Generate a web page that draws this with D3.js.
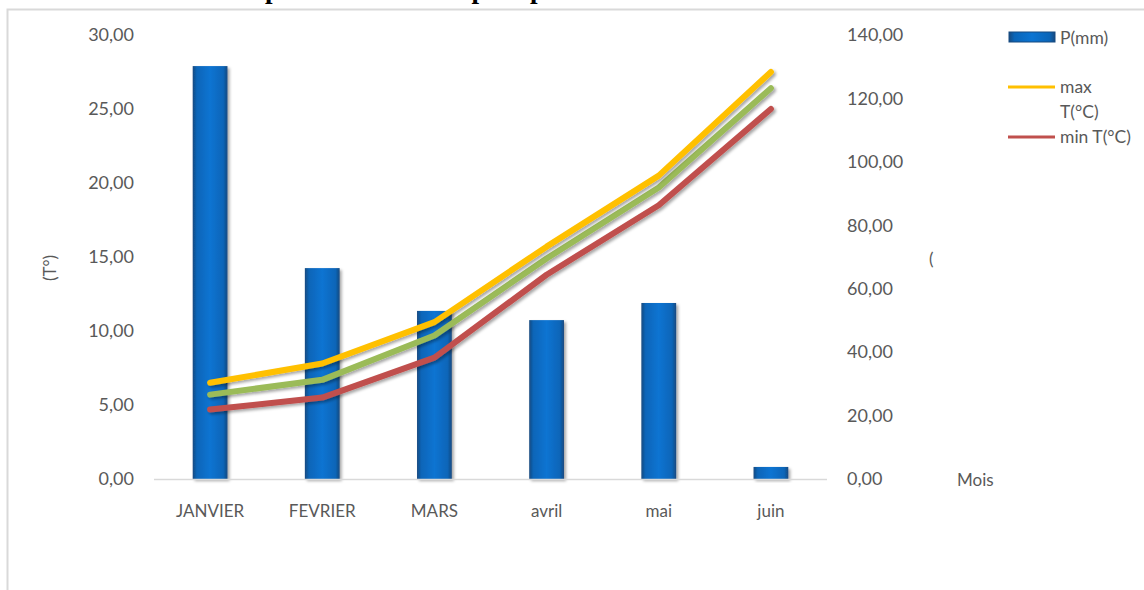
<!DOCTYPE html>
<html>
<head>
<meta charset="utf-8">
<script src="https://cdn.jsdelivr.net/npm/d3@7"></script>
<style>
  html, body { margin: 0; padding: 0; background: #fff; }
  svg { display: block; }
  text { font-family: Lato, "Open Sans", sans-serif; fill: #595959; }
</style>
</head>
<body>
<svg id="chart" width="1144" height="590"></svg>
<script>
// Months on the x axis
const months = ["JANVIER", "FEVRIER", "MARS", "avril", "mai", "juin"];
// Precipitation (mm), right axis
const precip = [130.2, 66.5, 53.0, 50.1, 55.5, 3.8];
// Temperatures (°C), left axis
const tMax = [6.5, 7.8, 10.6, 15.7, 20.5, 27.5];
const tMoy = [5.7, 6.7, 9.7, 14.9, 19.7, 26.4];
const tMin = [4.7, 5.5, 8.2, 13.8, 18.5, 25.0];
// Axis ticks
const leftTicks = [0, 5, 10, 15, 20, 25, 30];
const rightTicks = [0, 20, 40, 60, 80, 100, 120, 140];

const fmt = v => d3.format(".2f")(v).replace(".", ",");

const svg = d3.select("#chart");
const defs = svg.append("defs");

// Bar fill: dark edges, bright body
const grad = defs.append("linearGradient").attr("id", "barGrad")
  .attr("x1", "0").attr("x2", "1").attr("y1", "0").attr("y2", "0");
[[0, "#174a80"], [0.12, "#0a65b8"], [0.5, "#0b74d2"], [0.88, "#0a65b8"], [1, "#174a80"]]
  .forEach(([o, c]) => grad.append("stop").attr("offset", o).attr("stop-color", c));

const shadow = defs.append("filter").attr("id", "shadow")
  .attr("x", "-20%").attr("y", "-20%").attr("width", "150%").attr("height", "150%");
shadow.append("feDropShadow").attr("dx", 2).attr("dy", 2).attr("stdDeviation", 1.6)
  .attr("flood-color", "#000").attr("flood-opacity", 0.35);

// Outer frame
svg.append("rect").attr("x", 7.5).attr("y", 9.5).attr("width", 1160).attr("height", 600)
  .attr("fill", "none").attr("stroke", "#d9d9d9").attr("stroke-width", 2);

// Title (sits at the top edge)
const title = svg.append("text")
  .attr("y", -2)
  .style("font-family", "'Liberation Serif', 'DejaVu Serif', serif")
  .style("font-weight", "bold").style("font-size", "27px").style("fill", "#000")
  .text("Variation des températures et de la précipitation");
{
  const node = title.node();
  const s = title.text();
  const i = s.indexOf("p");
  const off = node.getSubStringLength(0, i);
  title.attr("x", 265 - off);
}

const plot = { left: 154, right: 827, top: 35, bottom: 479 };

const x = d3.scaleBand().domain(months).range([plot.left, plot.right]).paddingInner(0.69).paddingOuter(0.345);
const yL = d3.scaleLinear().domain([0, 30]).range([plot.bottom, plot.top]);
const yR = d3.scaleLinear().domain([0, 140]).range([plot.bottom, plot.top]);

// Left axis labels
const axL = svg.append("g").attr("transform", `translate(${plot.left - 20},0)`)
  .call(d3.axisLeft(yL).tickValues(leftTicks).tickFormat(fmt).tickSize(0).tickPadding(0));
axL.select(".domain").remove();
axL.selectAll("text").style("font-size", "18px").style("fill", "#595959")
  .style("font-family", "Lato, sans-serif");

// Right axis labels
const axR = svg.append("g").attr("transform", `translate(${plot.right + 20},0)`)
  .call(d3.axisRight(yR).tickValues(rightTicks).tickFormat(fmt).tickSize(0).tickPadding(0));
axR.select(".domain").remove();
axR.selectAll("text").style("font-size", "18px").style("fill", "#595959")
  .style("font-family", "Lato, sans-serif");

// Bars
svg.append("g").selectAll("rect").data(precip).join("rect")
  .attr("x", (d, i) => x(months[i]))
  .attr("y", d => yR(d))
  .attr("width", x.bandwidth())
  .attr("height", d => yR(0) - yR(d))
  .attr("fill", "url(#barGrad)")
  .attr("filter", "url(#shadow)");

// Baseline
svg.append("line").attr("x1", plot.left).attr("x2", plot.right)
  .attr("y1", plot.bottom + 0.5).attr("y2", plot.bottom + 0.5)
  .attr("stroke", "#d9d9d9").attr("stroke-width", 1.5);

// Month labels
const axX = svg.append("g").attr("transform", `translate(0,${plot.bottom})`)
  .call(d3.axisBottom(x).tickSize(0).tickPadding(26));
axX.select(".domain").remove();
axX.selectAll("text").style("font-size", "17px").style("fill", "#595959")
  .style("font-family", "Lato, sans-serif");

// Temperature lines
const line = d3.line().x((d, i) => x(months[i]) + x.bandwidth() / 2).y(d => yL(d));
[[tMoy, "#9bbb59"], [tMin, "#c0504d"], [tMax, "#ffc000"]].forEach(([data, color]) => {
  svg.append("path").datum(data).attr("d", line)
    .attr("fill", "none").attr("stroke", color).attr("stroke-width", 6)
    .attr("stroke-linecap", "round").attr("stroke-linejoin", "round")
    .attr("filter", "url(#shadow)");
});

// Axis titles
svg.append("text").attr("transform", "translate(56,268) rotate(-90)")
  .attr("text-anchor", "middle").style("font-size", "17px").text("(T°)");
svg.append("text").attr("x", 929).attr("y", 265).style("font-size", "17px").text("(");
svg.append("text").attr("x", 957).attr("y", 486).style("font-size", "17px").text("Mois");

// Legend
const lg = svg.append("g");
lg.append("rect").attr("x", 1009).attr("y", 32).attr("width", 46).attr("height", 10)
  .attr("fill", "url(#barGrad)").attr("stroke", "#174a80").attr("stroke-width", 1);
lg.append("text").attr("x", 1060).attr("y", 44).style("font-size", "17.5px").text("P(mm)");
lg.append("line").attr("x1", 1008).attr("x2", 1055).attr("y1", 87).attr("y2", 87)
  .attr("stroke", "#ffc000").attr("stroke-width", 3);
lg.append("text").attr("x", 1060).attr("y", 93).style("font-size", "17.5px").text("max");
lg.append("text").attr("x", 1060).attr("y", 118).style("font-size", "17.5px").text("T(°C)");
lg.append("line").attr("x1", 1008).attr("x2", 1055).attr("y1", 137).attr("y2", 137)
  .attr("stroke", "#c0504d").attr("stroke-width", 3);
lg.append("text").attr("x", 1060).attr("y", 143).style("font-size", "17.5px").text("min T(°C)");
</script>
</body>
</html>
